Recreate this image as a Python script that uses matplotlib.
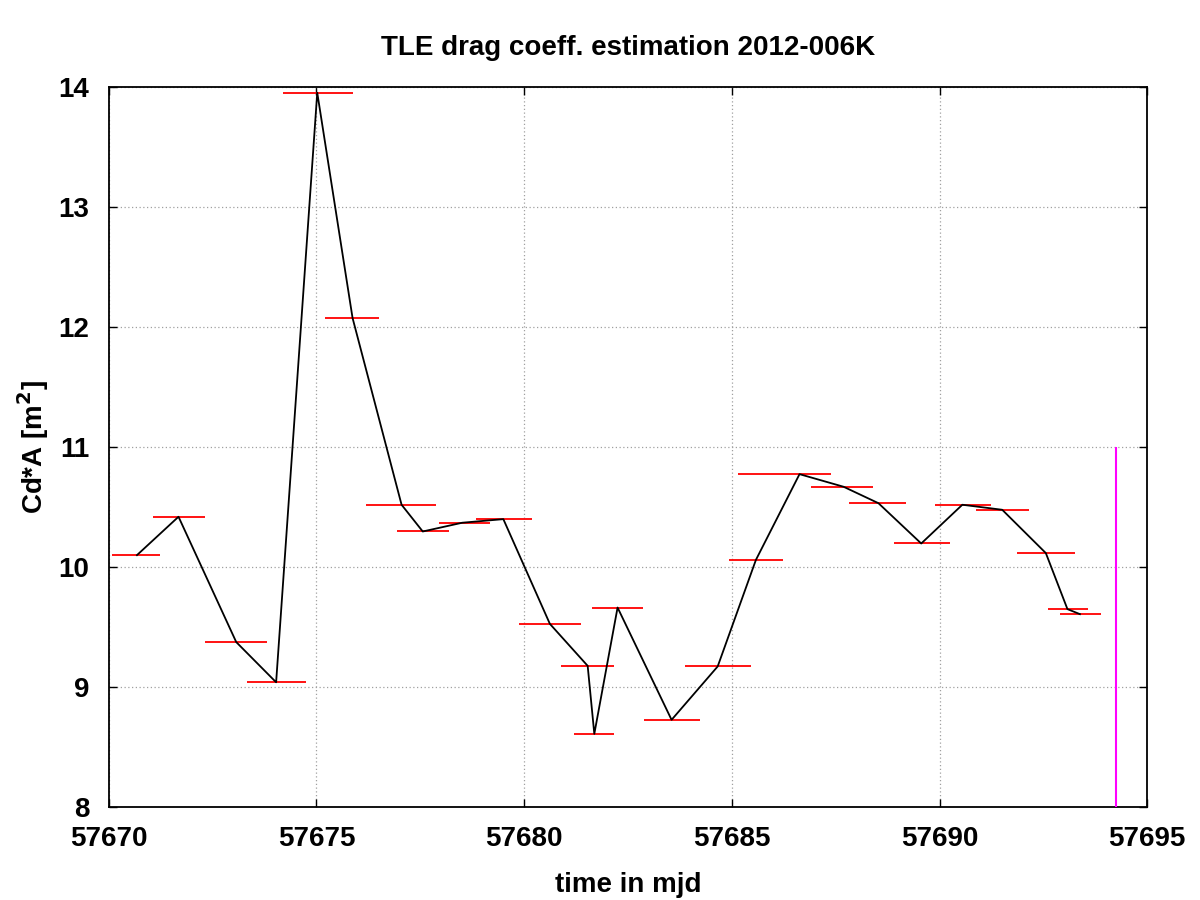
import matplotlib
matplotlib.use("Agg")
import matplotlib.pyplot as plt
import numpy as np

plt.rcParams['font.family'] = ['Liberation Sans', 'DejaVu Sans']
plt.rcParams['font.weight'] = 'bold'

# vertex positions (mjd) and estimated Cd*A values
mjd = [57670.68, 57671.68, 57673.07, 57674.03, 57675.02, 57675.87, 57677.05,
       57677.56, 57678.51, 57679.50, 57680.62, 57681.53, 57681.69, 57682.25,
       57683.55, 57684.66, 57685.58, 57686.63, 57687.69, 57688.53, 57689.56,
       57690.55, 57691.51, 57692.56, 57693.08, 57693.38]
cda = [10.10, 10.42, 9.375, 9.04, 13.955, 12.077, 10.52, 10.297, 10.37, 10.40,
       9.527, 9.177, 8.61, 9.663, 8.727, 9.172, 10.06, 10.775, 10.67, 10.533,
       10.197, 10.52, 10.478, 10.117, 9.65, 9.608]
# fit interval start / end (mjd) for each estimate
seg_start = [57670.07, 57671.06, 57672.32, 57673.33, 57674.20, 57675.20, 57676.20,
             57676.94, 57677.95, 57678.83, 57679.88, 57680.88, 57681.19, 57681.63,
             57682.88, 57683.87, 57684.94, 57685.15, 57686.91, 57687.83, 57688.90,
             57689.88, 57690.87, 57691.86, 57692.60, 57692.90]
seg_end = [57671.24, 57672.32, 57673.81, 57674.76, 57675.88, 57676.50, 57677.87,
           57678.19, 57679.19, 57680.18, 57681.37, 57682.17, 57682.17, 57682.87,
           57684.23, 57685.46, 57686.23, 57687.39, 57688.40, 57689.20, 57690.25,
           57691.23, 57692.16, 57693.26, 57693.57, 57693.88]
# vertical marker
marker_mjd = 57694.24
marker_top = 11.0

xticks = [57670, 57675, 57680, 57685, 57690, 57695]
yticks = [8, 9, 10, 11, 12, 13, 14]

fig = plt.figure(figsize=(12, 9), dpi=100)
ax = fig.add_axes([0.0906, 0.1033, 0.8654, 0.7997])

ax.hlines(cda, seg_start, seg_end, colors='#ff0000', linewidth=1.3, zorder=3)
ax.plot(mjd, cda, color='black', linewidth=1.3, zorder=4)
ax.vlines([marker_mjd], 8, marker_top, colors='#ff00ff', linewidth=1.5, zorder=4)

ax.set_xlim(57670, 57695)
ax.set_ylim(8, 14)
ax.set_xticks(xticks)
ax.set_yticks(yticks)
ax.set_xticklabels([str(t) for t in xticks])
ax.set_yticklabels([str(t) for t in yticks])
ax.tick_params(axis='both', which='major', direction='in', length=6, width=1,
               labelsize=20, top=True, right=True)
ax.tick_params(axis='x', pad=14)
ax.tick_params(axis='y', pad=14)
for lab in ax.get_xticklabels() + ax.get_yticklabels():
    lab.set_fontweight('bold')

ax.grid(True, color='#a0a0a0', linestyle=(0, (1, 2)), linewidth=0.9)
for s in ax.spines.values():
    s.set_linewidth(1.3)

ax.set_title('TLE drag coeff. estimation 2012-006K', fontsize=20,
             fontweight='bold', pad=23)
ax.set_xlabel('time in mjd', fontsize=20, fontweight='bold', labelpad=14)
ax.set_ylabel('Cd*A [m$^{\\mathbf{2}}$]', fontsize=20, fontweight='bold', labelpad=5)

fig.savefig('out.png', dpi=100)
